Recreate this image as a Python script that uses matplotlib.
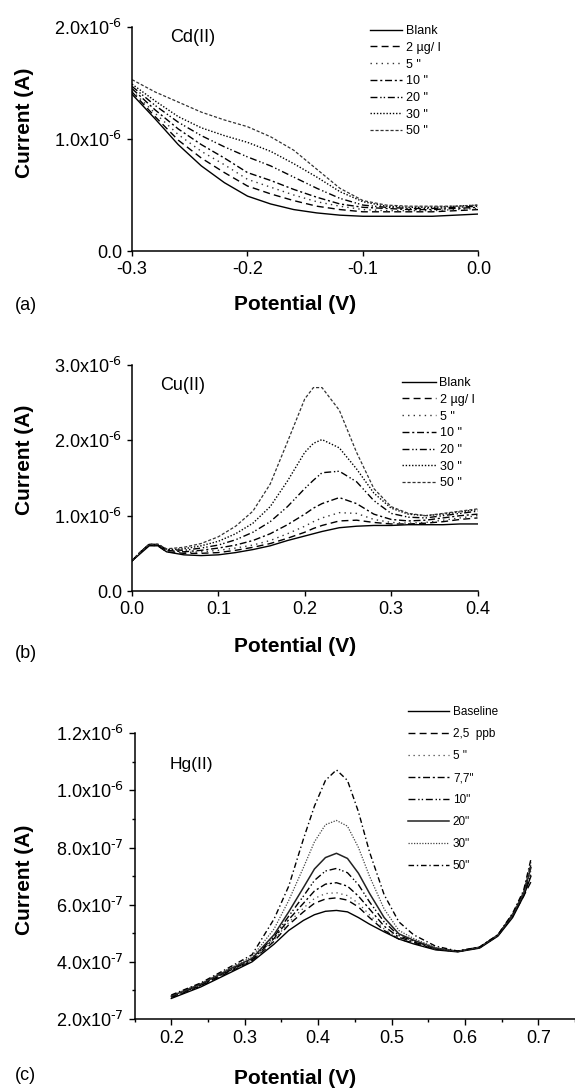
import numpy as np
import matplotlib
matplotlib.use("Agg")
from matplotlib import pyplot as plt

plt.rcParams['font.family'] = ['Liberation Sans', 'DejaVu Sans']
plt.rcParams['mathtext.default'] = 'regular'

# ---------------- data (currents in A, potentials in V) ----------------
# (a) Cd(II)
cd_x = [-0.30, -0.28, -0.26, -0.24, -0.22, -0.20, -0.18, -0.16,
        -0.14, -0.12, -0.10, -0.08, -0.06, -0.04, -0.02, 0.00]
cd_labels = ['Blank', '2 µg/ l', '5 "', '10 "', '20 "', '30 "', '50 "']
cd_blank = [1.40, 1.18, 0.95, 0.76, 0.61, 0.49, 0.42, 0.37, 0.34, 0.32, 0.31, 0.31, 0.31, 0.31, 0.32, 0.33]
cd_2 = [1.42, 1.20, 0.99, 0.83, 0.70, 0.58, 0.51, 0.45, 0.40, 0.37, 0.35, 0.35, 0.35, 0.35, 0.36, 0.37]
cd_5 = [1.43, 1.23, 1.04, 0.89, 0.77, 0.64, 0.57, 0.50, 0.44, 0.40, 0.37, 0.36, 0.36, 0.36, 0.37, 0.38]
cd_10 = [1.45, 1.26, 1.09, 0.95, 0.83, 0.70, 0.63, 0.55, 0.48, 0.42, 0.39, 0.38, 0.37, 0.37, 0.38, 0.39]
cd_20 = [1.47, 1.30, 1.15, 1.03, 0.93, 0.84, 0.76, 0.66, 0.56, 0.47, 0.41, 0.39, 0.38, 0.38, 0.39, 0.40]
cd_30 = [1.49, 1.34, 1.20, 1.10, 1.03, 0.97, 0.89, 0.78, 0.66, 0.53, 0.44, 0.40, 0.39, 0.39, 0.40, 0.41]
cd_50 = [1.53, 1.42, 1.33, 1.24, 1.17, 1.11, 1.02, 0.90, 0.73, 0.56, 0.45, 0.41, 0.40, 0.40, 0.40, 0.41]
cd_yticks = [0.0, 1.0e-6, 2.0e-6]
cd_yticklabels = ['0.0', '1.0x10$^{\\text{-6}}$', '2.0x10$^{\\text{-6}}$']
cd_xticks = [-0.3, -0.2, -0.1, 0.0]
cd_xticklabels = ['-0.3', '-0.2', '-0.1', '0.0']

# (b) Cu(II)
cu_x = [0.00, 0.01, 0.02, 0.03, 0.04, 0.06, 0.08, 0.10, 0.12, 0.14, 0.16, 0.18,
        0.20, 0.21, 0.22, 0.24, 0.26, 0.28, 0.30, 0.32, 0.34, 0.36, 0.38, 0.40]
cu_labels = ['Blank', '2 µg/ l', '5 "', '10 "', '20 "', '30 "', '50 "']
cu_blank = [0.40, 0.50, 0.60, 0.60, 0.52, 0.48, 0.47, 0.48, 0.51, 0.55, 0.60, 0.67,
            0.73, 0.76, 0.79, 0.84, 0.86, 0.87, 0.87, 0.88, 0.88, 0.88, 0.89, 0.89]
cu_2 = [0.40, 0.52, 0.61, 0.60, 0.52, 0.50, 0.50, 0.51, 0.54, 0.58, 0.63, 0.70,
        0.78, 0.83, 0.87, 0.93, 0.94, 0.91, 0.89, 0.89, 0.90, 0.92, 0.95, 0.97]
cu_5 = [0.40, 0.52, 0.62, 0.61, 0.53, 0.51, 0.52, 0.54, 0.57, 0.61, 0.67, 0.76,
        0.86, 0.92, 0.97, 1.04, 1.03, 0.95, 0.91, 0.90, 0.91, 0.94, 0.97, 1.00]
cu_10 = [0.40, 0.52, 0.62, 0.61, 0.54, 0.52, 0.54, 0.57, 0.61, 0.67, 0.76, 0.88,
         1.02, 1.10, 1.16, 1.24, 1.16, 1.02, 0.95, 0.93, 0.94, 0.97, 1.00, 1.02]
cu_20 = [0.40, 0.52, 0.62, 0.62, 0.55, 0.54, 0.57, 0.61, 0.68, 0.78, 0.92, 1.12,
         1.36, 1.47, 1.57, 1.59, 1.45, 1.20, 1.03, 0.98, 0.97, 1.00, 1.03, 1.06]
cu_30 = [0.40, 0.52, 0.62, 0.62, 0.55, 0.56, 0.60, 0.66, 0.76, 0.90, 1.12, 1.46,
         1.84, 1.96, 2.01, 1.90, 1.62, 1.30, 1.10, 1.02, 1.00, 1.02, 1.05, 1.08]
cu_50 = [0.40, 0.52, 0.62, 0.62, 0.56, 0.58, 0.63, 0.72, 0.86, 1.06, 1.42, 1.98,
         2.55, 2.70, 2.70, 2.40, 1.84, 1.36, 1.12, 1.03, 1.00, 1.03, 1.06, 1.09]
cu_yticks = [0.0, 1.0e-6, 2.0e-6, 3.0e-6]
cu_yticklabels = ['0.0', '1.0x10$^{\\text{-6}}$', '2.0x10$^{\\text{-6}}$', '3.0x10$^{\\text{-6}}$']
cu_xticks = [0.0, 0.1, 0.2, 0.3, 0.4]
cu_xticklabels = ['0.0', '0.1', '0.2', '0.3', '0.4']

# (c) Hg(II), currents in units of 1e-7 A
hg_x = [0.20, 0.24, 0.28, 0.31, 0.34, 0.36, 0.38, 0.395, 0.41, 0.425, 0.44, 0.455,
        0.47, 0.49, 0.51, 0.53, 0.56, 0.59, 0.62, 0.645, 0.665, 0.68, 0.69]
hg_labels = ['Baseline', '2,5  ppb', '5 "', '7,7"', '10"', '20"', '30"', '50"']
hg_base = [2.72, 3.12, 3.62, 4.00, 4.62, 5.10, 5.45, 5.65, 5.77, 5.80, 5.75, 5.55,
           5.32, 5.05, 4.80, 4.63, 4.42, 4.35, 4.48, 4.90, 5.55, 6.30, 7.00]
hg_2p5 = [2.75, 3.15, 3.66, 4.03, 4.72, 5.30, 5.75, 6.05, 6.20, 6.24, 6.16, 5.92,
          5.55, 5.10, 4.80, 4.66, 4.44, 4.36, 4.50, 4.92, 5.60, 6.30, 6.80]
hg_5 = [2.76, 3.16, 3.68, 4.05, 4.77, 5.38, 5.88, 6.22, 6.39, 6.42, 6.32, 6.05,
        5.65, 5.15, 4.82, 4.68, 4.44, 4.36, 4.50, 4.93, 5.64, 6.40, 7.20]
hg_7p7 = [2.78, 3.18, 3.70, 4.07, 4.82, 5.48, 6.05, 6.48, 6.72, 6.77, 6.65, 6.30,
          5.85, 5.25, 4.86, 4.70, 4.46, 4.36, 4.50, 4.93, 5.62, 6.42, 7.40]
hg_10 = [2.80, 3.20, 3.72, 4.10, 4.88, 5.60, 6.30, 6.85, 7.18, 7.27, 7.12, 6.70,
         6.10, 5.40, 4.92, 4.73, 4.47, 4.37, 4.51, 4.94, 5.66, 6.38, 7.10]
hg_20 = [2.80, 3.22, 3.75, 4.12, 4.95, 5.75, 6.60, 7.25, 7.65, 7.80, 7.62, 7.10,
         6.40, 5.55, 4.98, 4.76, 4.48, 4.37, 4.51, 4.94, 5.65, 6.40, 7.30]
hg_30 = [2.82, 3.24, 3.78, 4.18, 5.15, 6.15, 7.30, 8.20, 8.80, 8.95, 8.75, 8.00,
         7.00, 5.85, 5.10, 4.82, 4.50, 4.37, 4.52, 4.95, 5.68, 6.45, 7.50]
hg_50 = [2.84, 3.26, 3.82, 4.25, 5.50, 6.65, 8.30, 9.45, 10.35, 10.72, 10.35, 9.25,
         7.85, 6.35, 5.40, 4.95, 4.55, 4.38, 4.52, 4.95, 5.70, 6.50, 7.60]
hg_yticks = [2e-7, 4e-7, 6e-7, 8e-7, 1.0e-6, 1.2e-6]
hg_yticklabels = ['2.0x10$^{\\text{-7}}$', '4.0x10$^{\\text{-7}}$', '6.0x10$^{\\text{-7}}$',
                  '8.0x10$^{\\text{-7}}$', '1.0x10$^{\\text{-6}}$', '1.2x10$^{\\text{-6}}$']
hg_xticks = [0.2, 0.3, 0.4, 0.5, 0.6, 0.7]
hg_xticklabels = ['0.2', '0.3', '0.4', '0.5', '0.6', '0.7']

# ---------------- figure ----------------
W, H = 575, 1089
fig = plt.figure(figsize=(W / 100, H / 100), dpi=100)


def box(l, t, r, b):
    return [l / W, 1 - b / H, (r - l) / W, (b - t) / H]


def ftext(x, y, s, **kw):
    fig.text(x / W, 1 - y / H, s, **kw)


ax_a = fig.add_axes(box(132, 27, 478.5, 251))
ax_b = fig.add_axes(box(132, 365, 477.5, 591))
ax_c = fig.add_axes(box(134.6, 733.3, 575, 1019))

cd_styles = [dict(ls='-', lw=1.0, color='black'),
             dict(ls=(0, (5, 3)), lw=1.0, color='black'),
             dict(ls=(0, (1, 3)), lw=1.0, color='#333333'),
             dict(ls=(0, (5, 2, 1.5, 2)), lw=1.0, color='black'),
             dict(ls=(0, (5, 2, 1, 1.5, 1, 2)), lw=1.0, color='black'),
             dict(ls=(0, (1, 1.3)), lw=1.0, color='black'),
             dict(ls=(0, (2.5, 1.5)), lw=0.9, color='#333333')]
hg_styles = [dict(ls='-', lw=1.0, color='black'),
             dict(ls=(0, (5, 3)), lw=1.0, color='black'),
             dict(ls=(0, (1, 3)), lw=0.9, color='#444444'),
             dict(ls=(0, (5, 2, 1.5, 2)), lw=1.0, color='black'),
             dict(ls=(0, (5, 2, 1, 1.5, 1, 2)), lw=1.0, color='black'),
             dict(ls='-', lw=1.1, color='#222222'),
             dict(ls=(0, (1, 1.2)), lw=0.9, color='#444444'),
             dict(ls=(0, (4, 2, 1, 2)), lw=1.0, color='black')]

cd_series = [cd_blank, cd_2, cd_5, cd_10, cd_20, cd_30, cd_50]
for vals, lab, st in zip(cd_series, cd_labels, cd_styles):
    ax_a.plot(cd_x, np.array(vals) * 1e-6, label=lab, **st)

cu_series = [cu_blank, cu_2, cu_5, cu_10, cu_20, cu_30, cu_50]
for vals, lab, st in zip(cu_series, cu_labels, cd_styles):
    ax_b.plot(cu_x, np.array(vals) * 1e-6, label=lab, **st)

hg_series = [hg_base, hg_2p5, hg_5, hg_7p7, hg_10, hg_20, hg_30, hg_50]
for vals, lab, st in zip(hg_series, hg_labels, hg_styles):
    ax_c.plot(hg_x, np.array(vals) * 1e-7, label=lab, **st)

ax_a.set_xlim(-0.3, 0.0)
ax_a.set_ylim(0, 2e-6)
ax_b.set_xlim(0.0, 0.4)
ax_b.set_ylim(0, 3e-6)
ax_c.set_xlim(0.15, 0.75)
ax_c.set_ylim(2e-7, 1.2e-6)

for ax, xt, xl, yt, yl in [(ax_a, cd_xticks, cd_xticklabels, cd_yticks, cd_yticklabels),
                           (ax_b, cu_xticks, cu_xticklabels, cu_yticks, cu_yticklabels),
                           (ax_c, hg_xticks, hg_xticklabels, hg_yticks, hg_yticklabels)]:
    ax.set_xticks(xt)
    ax.set_xticklabels(xl)
    ax.set_yticks(yt)
    ax.set_yticklabels(yl)
    ax.spines['top'].set_visible(False)
    ax.spines['right'].set_visible(False)
    for s in ['left', 'bottom']:
        ax.spines[s].set_linewidth(1.1)
    ax.tick_params(direction='out', length=3.6, width=1.0, labelsize=13, pad=3.5)
    ax.patch.set_visible(False)

ax_c.set_xticks([0.15, 0.25, 0.35, 0.45, 0.55, 0.65, 0.75], minor=True)
ax_c.set_yticks([3e-7, 5e-7, 7e-7, 9e-7, 1.1e-6], minor=True)
ax_c.tick_params(which='minor', direction='out', length=2.5, width=1.0)
ax_c.tick_params(which='major', length=4.5)

# panel names inside axes
ftext(170, 38, 'Cd(II)', fontsize=13, va='center', ha='left')
ftext(160, 385, 'Cu(II)', fontsize=13, va='center', ha='left')
ftext(170, 765, 'Hg(II)', fontsize=12.5, va='center', ha='left')

# axis titles and letters
for yc, yp, letter, ylet in [(123, 305, '(a)', 306), (460, 647, '(b)', 653), (880, 1078, '(c)', 1075)]:
    ftext(25, yc, 'Current (A)', fontsize=15, fontweight='bold', rotation=90,
          ha='center', va='center')
    ftext(295, yp, 'Potential (V)', fontsize=15, fontweight='bold',
          ha='center', va='center')
    ftext(15, ylet, letter, fontsize=13, ha='left', va='center')

leg_kw = dict(frameon=False, loc='upper left', bbox_transform=fig.transFigure,
              borderaxespad=0, borderpad=0, handletextpad=0.3)
ax_a.legend(bbox_to_anchor=(370 / W, 1 - 25 / H), fontsize=9, handlelength=2.6,
            labelspacing=0.38, **leg_kw)
ax_b.legend(bbox_to_anchor=(402 / W, 1 - 377 / H), fontsize=9, handlelength=2.7,
            labelspacing=0.38, **leg_kw)
ax_c.legend(bbox_to_anchor=(408 / W, 1 - 706 / H), fontsize=8.5, handlelength=3.5,
            labelspacing=0.85, **leg_kw)

fig.savefig('out.png', dpi=100)
